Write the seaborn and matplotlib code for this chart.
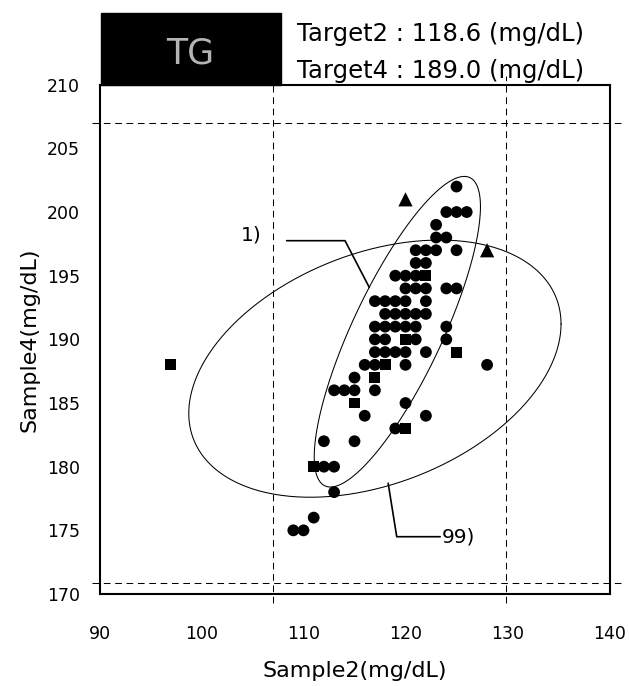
import numpy as np
import pandas as pd
import matplotlib
matplotlib.use("Agg")
import matplotlib.pyplot as plt
from matplotlib.patches import Rectangle
import seaborn as sns

# Laboratory results (Sample2 vs Sample4), grouped by marker type
circle_s2 = [125,
             124, 125, 126,
             123,
             123, 124,
             121, 122, 123, 125,
             121, 122,
             119, 120, 121,
             120, 121, 122, 124, 125,
             117, 118, 119, 120, 122,
             118, 119, 120, 121, 122,
             117, 118, 119, 120, 121, 124,
             117, 118, 121, 124,
             117, 118, 119, 120, 122,
             116, 117, 120, 128,
             115,
             113, 114, 115, 117,
             120,
             116, 122,
             119,
             112, 115,
             112, 113,
             113,
             111,
             109, 110]
circle_s4 = [202,
             200, 200, 200,
             199,
             198, 198,
             197, 197, 197, 197,
             196, 196,
             195, 195, 195,
             194, 194, 194, 194, 194,
             193, 193, 193, 193, 193,
             192, 192, 192, 192, 192,
             191, 191, 191, 191, 191, 191,
             190, 190, 190, 190,
             189, 189, 189, 189, 189,
             188, 188, 188, 188,
             187,
             186, 186, 186, 186,
             185,
             184, 184,
             183,
             182, 182,
             180, 180,
             178,
             176,
             175, 175]

square_s2 = [122, 120, 125, 118, 117, 97, 115, 120, 111]
square_s4 = [195, 190, 189, 188, 187, 188, 185, 183, 180]

triangle_s2 = [120, 128]
triangle_s4 = [201, 197]

target2 = 118.6
target4 = 189.0
limits2 = [107.0, 129.9]
limits4 = [170.9, 207.0]

x_ticks = [90, 100, 110, 120, 130, 140]
y_ticks = [170, 175, 180, 185, 190, 195, 200, 205, 210]

# Ellipses: centre and shape matrix (Sample2, Sample4)
inner_center = [119.2, 190.6]
inner_shape = [[66.4, 80.0], [80.0, 148.8]]
outer_center = [117.0, 187.7]
outer_shape = [[333.0, 64.0], [64.0, 102.0]]

sns.set_style("white")
plt.rcParams["font.family"] = ["DejaVu Sans"]
plt.rcParams["text.color"] = "black"
plt.rcParams["axes.labelcolor"] = "black"

df = pd.concat([
    pd.DataFrame({"s2": circle_s2, "s4": circle_s4, "kind": "circle"}),
    pd.DataFrame({"s2": square_s2, "s4": square_s4, "kind": "square"}),
    pd.DataFrame({"s2": triangle_s2, "s4": triangle_s4, "kind": "triangle"}),
], ignore_index=True)

fig = plt.figure(figsize=(6.29, 6.86), dpi=100)
ax = fig.add_axes([0.1582, 0.1341, 0.8108, 0.7424])

sns.scatterplot(data=df, x="s2", y="s4", style="kind", size="kind",
                markers={"circle": "o", "square": "s", "triangle": "^"},
                sizes={"circle": 72, "square": 62, "triangle": 105},
                color="black", edgecolor="none", linewidth=0,
                legend=False, ax=ax, zorder=3)


def ellipse_points(center, shape, n=400):
    t = np.linspace(0, 2 * np.pi, n)
    L = np.linalg.cholesky(np.array(shape))
    pts = L @ np.vstack([np.cos(t), np.sin(t)])
    return center[0] + pts[0], center[1] + pts[1]


for c, m in [(inner_center, inner_shape), (outer_center, outer_shape)]:
    ex, ey = ellipse_points(c, m)
    ax.plot(ex, ey, color="black", lw=0.75, zorder=2)

# Acceptance limits around the target values
for xv in limits2:
    ax.axvline(xv, ymin=-0.018, ymax=1.018, color="black", lw=0.75,
               ls=(0, (6.4, 4.5)), clip_on=False, zorder=1)
for yv in limits4:
    ax.axhline(yv, xmin=-0.015, xmax=1.023, color="black", lw=0.75,
               ls=(0, (6.4, 4.5)), clip_on=False, zorder=1)

# Callouts for the two ellipses
ax.plot([108.35, 114.07, 116.45], [197.75, 197.75, 194.08],
        color="black", lw=1.2, zorder=2)
ax.text(104.9, 198.2, "1)", fontsize=14.5, ha="center", va="center")
ax.plot([118.3, 119.14, 123.4], [178.7, 174.5, 174.5],
        color="black", lw=1.2, zorder=2)
ax.text(125.2, 174.5, "99)", fontsize=14.5, ha="center", va="center")

ax.set_xlim(90, 140)
ax.set_ylim(170, 210)
ax.set_xticks(x_ticks)
ax.set_yticks(y_ticks)
ax.tick_params(axis="both", direction="in", length=6, width=1,
               labelsize=12.5, colors="black")
ax.tick_params(axis="x", pad=22)
ax.tick_params(axis="y", pad=14)
for sp in ax.spines.values():
    sp.set_linewidth(1.5)
    sp.set_color("black")
    sp.set_visible(True)

ax.set_xlabel("Sample2(mg/dL)", fontsize=16)
ax.set_ylabel("Sample4(mg/dL)", fontsize=16)
ax.xaxis.set_label_coords(0.5, -0.132)
ax.yaxis.set_label_coords(-0.118, 0.5)

# Header: analyte box and target values
fig.add_artist(Rectangle((0.1601, 0.8761), 0.2862, 0.1045,
                         transform=fig.transFigure, facecolor="black",
                         edgecolor="black", zorder=5))
fig.text(0.302, 0.9227, "TG", fontsize=25, color="#b4b4b4",
         ha="center", va="center", zorder=6)
fig.text(0.472, 1 - 41 / 686, f"Target2 : {target2:.1f} (mg/dL)",
         fontsize=17.5, ha="left", va="baseline")
fig.text(0.472, 1 - 78 / 686, f"Target4 : {target4:.1f} (mg/dL)",
         fontsize=17.5, ha="left", va="baseline")

fig.savefig("out.png", dpi=100)
